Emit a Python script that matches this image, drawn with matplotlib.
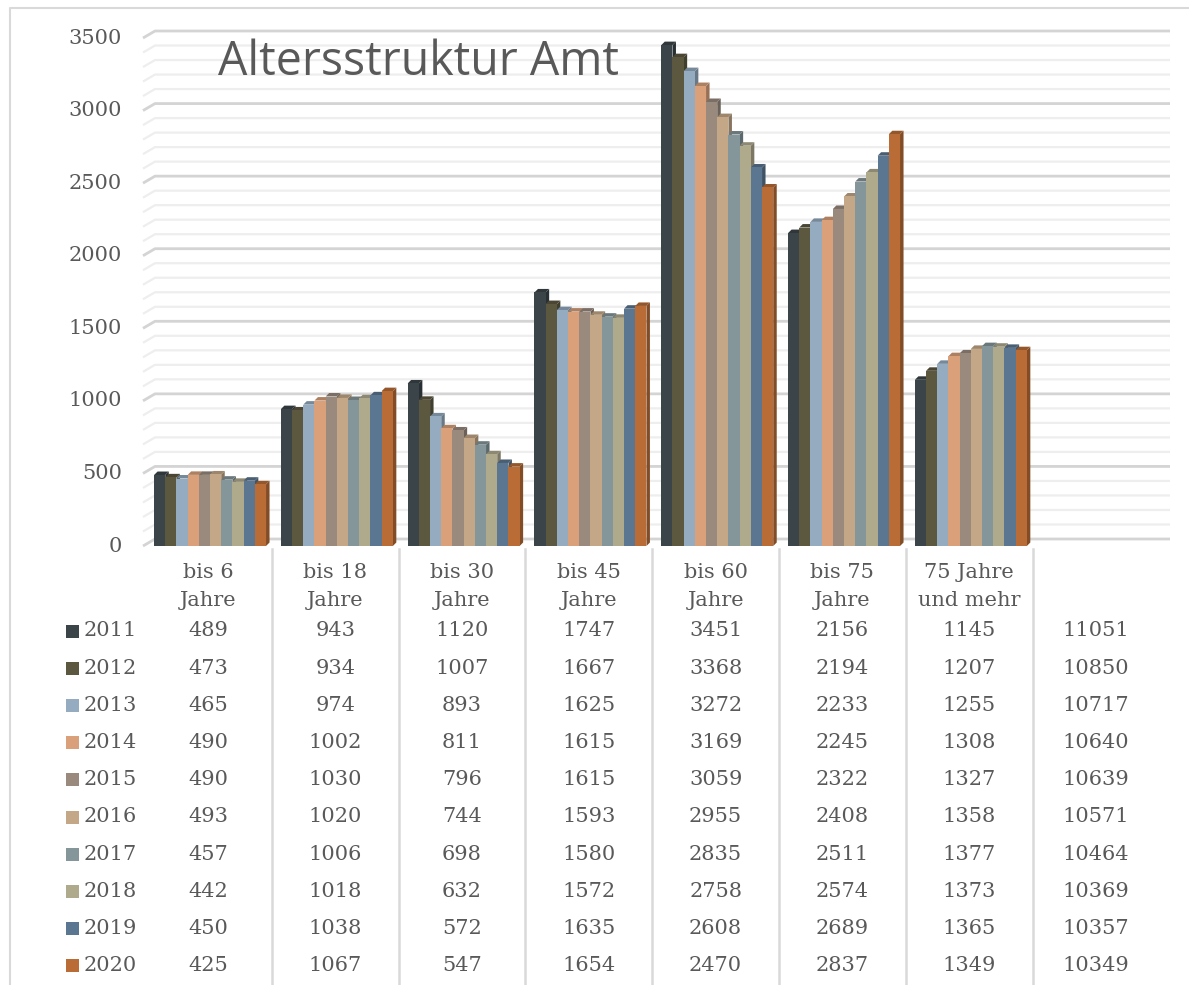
import numpy as np
import matplotlib
matplotlib.use("Agg")
import matplotlib.pyplot as plt
from matplotlib.patches import Polygon, Rectangle
from matplotlib.transforms import blended_transform_factory
from matplotlib.colors import to_rgb

# data
categories = [["bis 6", "Jahre"], ["bis 18", "Jahre"], ["bis 30", "Jahre"],
              ["bis 45", "Jahre"], ["bis 60", "Jahre"], ["bis 75", "Jahre"],
              ["75 Jahre", "und mehr"]]
years = ["2011", "2012", "2013", "2014", "2015", "2016", "2017", "2018", "2019", "2020"]
values = [
    [489, 943, 1120, 1747, 3451, 2156, 1145],
    [473, 934, 1007, 1667, 3368, 2194, 1207],
    [465, 974, 893, 1625, 3272, 2233, 1255],
    [490, 1002, 811, 1615, 3169, 2245, 1308],
    [490, 1030, 796, 1615, 3059, 2322, 1327],
    [493, 1020, 744, 1593, 2955, 2408, 1358],
    [457, 1006, 698, 1580, 2835, 2511, 1377],
    [442, 1018, 632, 1572, 2758, 2574, 1373],
    [450, 1038, 572, 1635, 2608, 2689, 1365],
    [425, 1067, 547, 1654, 2470, 2837, 1349],
]
totals = [11051, 10850, 10717, 10640, 10639, 10571, 10464, 10369, 10357, 10349]
colors = ["#3b4549", "#5c5840", "#94abc0", "#d9a07a", "#9a8a7e",
          "#c4a786", "#84969a", "#b0aa8d", "#5b7690", "#b96c36"]
yticks = [0, 500, 1000, 1500, 2000, 2500, 3000, 3500]

W, H = 1189, 985
TXT = "#595959"
SERIF = "DejaVu Serif"
FS = 15


def fx(px):
    return px / W


def fy(py):
    return 1 - py / H


def darker(c, f):
    r, g, b = to_rgb(c)
    return (r * f, g * f, b * f)


fig = plt.figure(figsize=(W / 100, H / 100), dpi=100)
fig.patch.set_facecolor("white")

# plot area in pixels
left_px, right_px, top_px, bottom_px = 143, 1170, 38, 546
ax = fig.add_axes([fx(left_px), fy(bottom_px), fx(right_px - left_px), (bottom_px - top_px) / H])
cat_w = 126.8
c0 = 208.4
ax.set_xlim((left_px - c0) / cat_w, (right_px - c0) / cat_w)
ax.set_ylim(0, 3500)
ax.axis("off")

# gridlines with a small perspective kink on the left
units_per_px = 3500 / (bottom_px - top_px)
back = 7 * units_per_px
x_wall = (155 - c0) / cat_w
x_front = (left_px - c0) / cat_w
x_end = (right_px - c0) / cat_w
for v in range(0, 3600, 100):
    major = v % 500 == 0
    col = "#d4d4d4" if major else "#eeeeee"
    lw = 2.0 if major else 1.6
    ax.plot([x_front, x_wall, x_end], [v, v + back, v + back], color=col, lw=lw,
            clip_on=False, zorder=1, solid_capstyle="butt")

# 3D-ish columns
n = len(years)
pitch = 0.0883
shift = 0.013
dx = 3.5 / cat_w
dy = 3.5 * units_per_px
for k in range(len(categories)):
    for i in range(n):
        h = values[i][k]
        x0 = k + shift + (i - n / 2) * pitch
        x1 = x0 + pitch
        z = 3 + i * 3
        side = Polygon([(x1, 0), (x1 + dx, dy), (x1 + dx, h + dy), (x1, h)],
                       closed=True, facecolor=darker(colors[i], 0.7), edgecolor="none", zorder=z)
        top = Polygon([(x0, h), (x1, h), (x1 + dx, h + dy), (x0 + dx, h + dy)],
                      closed=True, facecolor=darker(colors[i], 0.8), edgecolor="none", zorder=z + 1)
        ax.add_patch(side)
        ax.add_patch(top)
        ax.bar(x0, h, width=pitch, align="edge", color=colors[i], edgecolor="none", zorder=z + 2)

# y tick labels
for v in yticks:
    ax.text((122 - c0) / cat_w, v, str(v), ha="right", va="center",
            fontsize=FS, color=TXT, family=SERIF)

# title
fig.text(fx(218), fy(62), "Altersstruktur Amt", fontsize=33.5, color=TXT,
         family="Open Sans", ha="left", va="center")

# data table
tr = blended_transform_factory(ax.transData, fig.transFigure)
for k in range(1, len(categories) + 1):
    ax.plot([k - 0.5, k - 0.5], [fy(549), fy(985)], transform=tr, color="#d9d9d9",
            lw=1.8, clip_on=False, zorder=1)

for k, lab in enumerate(categories):
    ax.text(k, fy(573), lab[0], transform=tr, ha="center", va="center",
            fontsize=FS, color=TXT, family=SERIF)
    ax.text(k, fy(600), lab[1], transform=tr, ha="center", va="center",
            fontsize=FS, color=TXT, family=SERIF)

row0, row_step = 631, 37.2
for i, yr in enumerate(years):
    yc = row0 + i * row_step
    fig.patches.append(Rectangle((fx(66), fy(yc + 6.5)), fx(13), 13 / H,
                                 transform=fig.transFigure, facecolor=colors[i],
                                 edgecolor="none"))
    fig.text(fx(84), fy(yc), yr, ha="left", va="center", fontsize=FS, color=TXT, family=SERIF)
    for k in range(len(categories)):
        ax.text(k, fy(yc), str(values[i][k]), transform=tr, ha="center", va="center",
                fontsize=FS, color=TXT, family=SERIF)
    ax.text(len(categories), fy(yc), str(totals[i]), transform=tr, ha="center", va="center",
            fontsize=FS, color=TXT, family=SERIF)

# outer frame (cut at right and bottom)
fig.lines.append(plt.Line2D([fx(10), fx(10), fx(1189)], [fy(985), fy(8), fy(8)],
                            transform=fig.transFigure, color="#d9d9d9", lw=1.5))

fig.savefig("out.png", dpi=100, facecolor="white")
